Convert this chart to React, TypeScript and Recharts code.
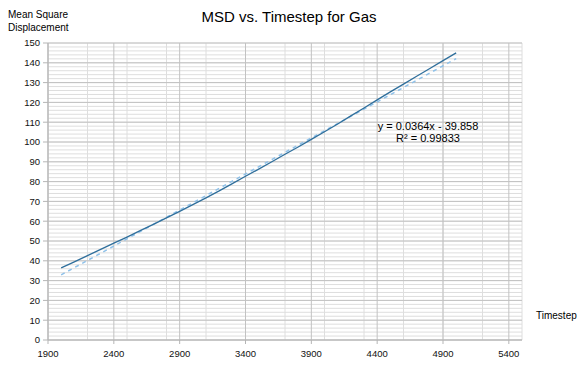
import React from 'react';
import { LineChart, Line, XAxis, YAxis, CartesianGrid } from 'recharts';

// MSD readings, one every 100 timesteps
const timesteps = [
  2000, 2100, 2200, 2300, 2400, 2500, 2600, 2700, 2800, 2900, 3000,
  3100, 3200, 3300, 3400, 3500, 3600, 3700, 3800, 3900, 4000,
  4100, 4200, 4300, 4400, 4500, 4600, 4700, 4800, 4900, 5000,
];
const msd = [
  36.4, 39.5, 42.6, 45.8, 48.9, 52.0, 55.2, 58.4, 61.7, 65.0, 68.4,
  71.8, 75.3, 79.0, 82.7, 86.3, 90.0, 93.8, 97.5, 101.3, 105.2,
  109.1, 113.2, 117.2, 121.3, 125.3, 129.2, 133.2, 137.1, 141.1, 145.0,
];

// linear trendline end points (y = 0.0364x - 39.858)
const trendX = [2000, 5000];
const trendY = [32.9, 142.1];

const xTicks = [1900, 2400, 2900, 3400, 3900, 4400, 4900, 5400];
const yTicks = [0, 10, 20, 30, 40, 50, 60, 70, 80, 90, 100, 110, 120, 130, 140, 150];
const xMinor = Array.from({ length: 37 }, (_, i) => 1900 + i * 100);
const yMinor = Array.from({ length: 76 }, (_, i) => i * 2);

const series = timesteps.map((t, i) => ({ x: t, y: msd[i] }));
const trend = trendX.map((t, i) => ({ x: t, y: trendY[i] }));

const font = 'Liberation Sans, Arial, sans-serif';
const tickStyle = { fontSize: 9.5, fill: '#111', fontFamily: font };

export default function App() {
  return (
    <div style={{ position: 'absolute', left: 0, top: 0, width: 580, height: 371, background: '#fff' }}>
      <LineChart
        width={580}
        height={371}
        margin={{ top: 43, right: 58, left: 0, bottom: 0 }}
      >
        <CartesianGrid stroke="#dedede" verticalValues={xMinor} horizontalValues={yMinor} />
        <CartesianGrid stroke="#c2c2c2" verticalValues={xTicks} horizontalValues={yTicks} />
        <XAxis
          type="number"
          dataKey="x"
          domain={[1900, 5500]}
          ticks={xTicks}
          allowDataOverflow
          height={31}
          stroke="#b5b5b5"
          tickSize={4}
          tick={tickStyle}
          tickMargin={6}
        />
        <YAxis
          type="number"
          dataKey="y"
          domain={[0, 150]}
          ticks={yTicks}
          width={48}
          stroke="#b5b5b5"
          tickSize={5}
          tick={tickStyle}
          tickMargin={3}
          interval={0}
        />
        <Line
          data={trend}
          dataKey="y"
          stroke="#8fc1e9"
          strokeWidth={1.5}
          strokeDasharray="4 4"
          dot={false}
          isAnimationActive={false}
        />
        <Line
          data={series}
          dataKey="y"
          stroke="#2f6f9c"
          strokeWidth={1.3}
          dot={false}
          isAnimationActive={false}
        />
      </LineChart>
      <svg width={580} height={371} style={{ position: 'absolute', left: 0, top: 0, pointerEvents: 'none' }}>
        <text x={289} y={22} textAnchor="middle" fontSize={15} fontFamily={font} fill="#000">
          MSD vs. Timestep for Gas
        </text>
        <text x={8} y={18} fontSize={10} fontFamily={font} fill="#000">Mean Square</text>
        <text x={8} y={31} fontSize={10} fontFamily={font} fill="#000">Displacement</text>
        <text x={536} y={319} fontSize={10} fontFamily={font} fill="#000">Timestep</text>
        <text x={428} y={130} textAnchor="middle" fontSize={11} fontFamily={font} fill="#000">
          y = 0.0364x - 39.858
        </text>
        <text x={428} y={142} textAnchor="middle" fontSize={11} fontFamily={font} fill="#000">
          R² = 0.99833
        </text>
      </svg>
    </div>
  );
}
